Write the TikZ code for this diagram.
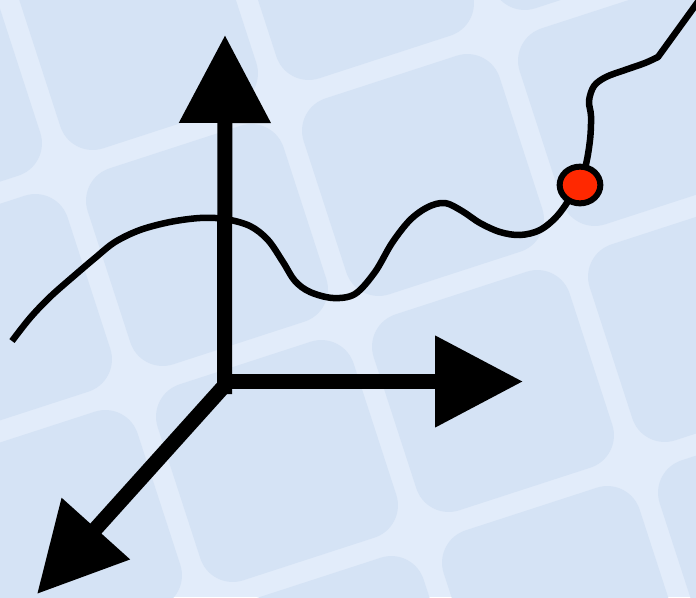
\documentclass[tikz,border=0pt]{standalone}
\usetikzlibrary{arrows.meta,shapes.geometric}
\definecolor{gridline}{RGB}{226,236,250}
\definecolor{tilefill}{RGB}{213,227,245}
\definecolor{pointred}{RGB}{255,40,0}
\tikzset{
  tile/.style={fill=tilefill, rounded corners=34pt},
  axis/.style={line width=15pt, -{Triangle[length=88pt,width=88pt]}},
  curveline/.style={line width=6.5pt, line join=round},
  dot/.style={ellipse, draw, line width=6pt, fill=pointred, inner sep=0pt,
              minimum width=40.7pt, minimum height=36.7pt}
}
\begin{document}
\begin{tikzpicture}[x=1pt,y=-1pt]
  % canvas and tilted tile pattern
  \useasboundingbox (0,0) rectangle (696,597);
  \fill[gridline] (0,0) rectangle (696,597);
  \begin{scope}
    \clip (0,0) rectangle (696,597);
    \foreach \i in {-3,...,2}{
      \foreach \j in {-2,...,3}{
        \fill[tile, shift={({423+216*\i+70*\j},{175-70*\i+216*\j})}, rotate=18]
          (-103,-103) rectangle (103,103);
      }
    }
  \end{scope}

  % wavy trajectory
  \coordinate (c0) at (12,341);
  \coordinate (c1) at (700,-1);
  \draw[curveline] plot[smooth, tension=0.55] coordinates {
      (12,341) (30,318) (50,297) (75,275) (95,258) (115,242) (140,230)
      (170,222) (200,218) (225,219) (250,226) (268,240) (283,262)
      (295,281) (310,292) (333,298) (355,294) (375,272) (392,243)
      (410,220) (428,207) (445,203) (462,211) (480,223) (500,232)
      (520,235) (540,230) (558,215) (575,190) (585,168) (590,140)
      (591,116) (589,101) (594,86) (606,77) (625,70) (645,63) (658,57)}
    -- (c1);

  % coordinate axes
  \coordinate (ybase) at (224.5,394);
  \coordinate (ytip) at (225,35);
  \coordinate (xbase) at (217,381.5);
  \coordinate (xtip) at (523,381.5);
  \coordinate (zbase) at (226,384);
  \coordinate (ztip) at (37,594);
  \draw[axis] (zbase) -- (ztip);
  \draw[axis] (xbase) -- (xtip);
  \draw[axis] (ybase) -- (ytip);

  % marked point on the trajectory
  \node[dot] (p) at (580,185) {};
\end{tikzpicture}
\end{document}
